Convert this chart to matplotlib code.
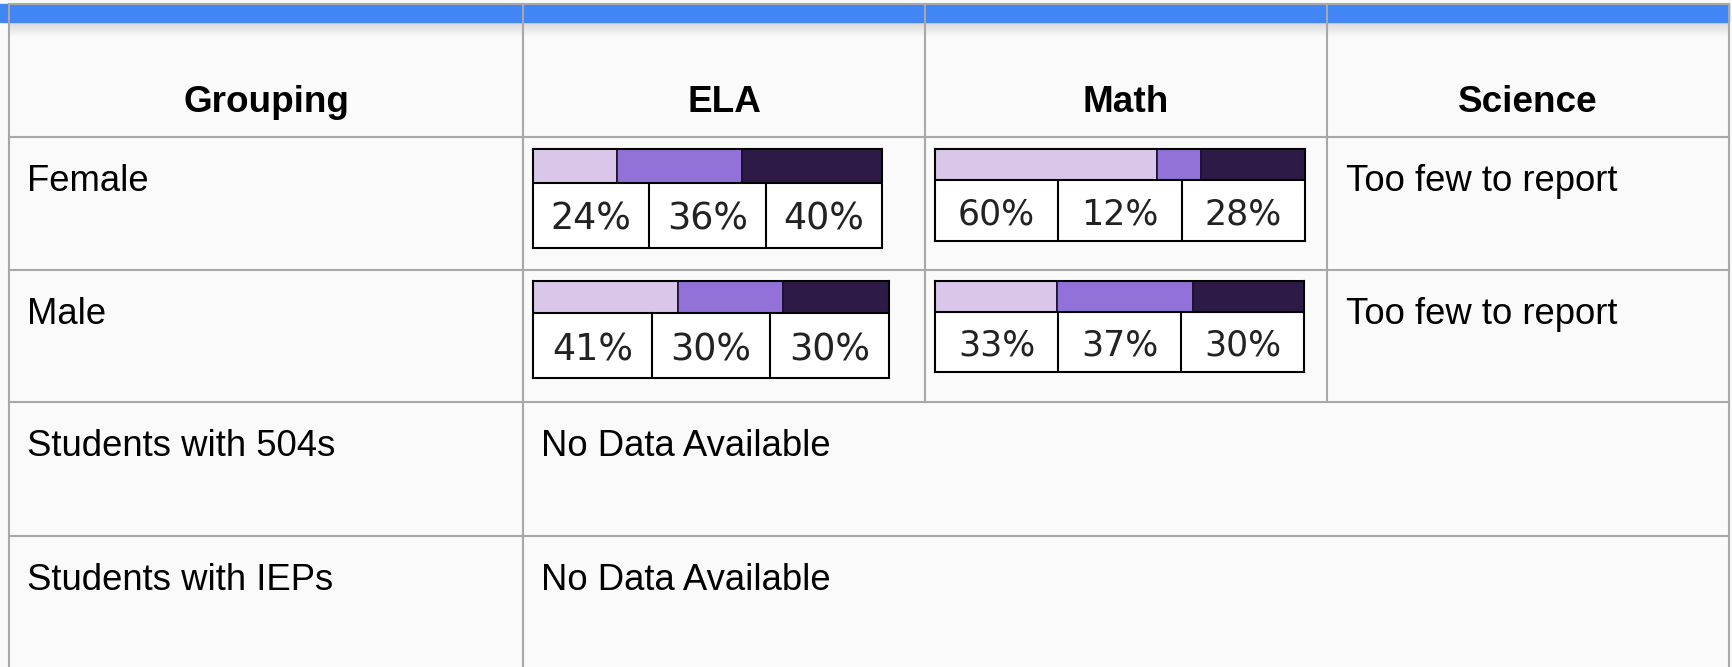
import numpy as np
import matplotlib
matplotlib.use("Agg")
import matplotlib.pyplot as plt
from matplotlib.patches import Rectangle

# table content
header_first = "Grouping"
subjects = ["ELA", "Math", "Science"]
groupings = ["Female", "Male", "Students with 504s", "Students with IEPs"]
ela_female = [24, 36, 40]
ela_male = [41, 30, 30]
math_female = [60, 12, 28]
math_male = [33, 37, 30]
science_note = "Too few to report"
no_data = "No Data Available"
level_colors = ["#d9c6e9", "#9272d8", "#2d1a47"]

W, H = 1733, 667
BG = "#fafafa"
GRID = "#a8a8a8"

# layout in pixels
col_x = [9, 523, 925, 1327, 1729]
row_y = [4, 137, 270, 402, 536]
band_bottom = 22

fig = plt.figure(figsize=(W / 100, H / 100), dpi=100)
fig.patch.set_facecolor(BG)
ax = fig.add_axes([0, 0, 1, 1])
ax.set_xlim(0, W)
ax.set_ylim(H, 0)
ax.axis("off")
ax.set_facecolor(BG)

# blue band on top + soft shadow under it
ax.add_patch(Rectangle((0, row_y[0]), col_x[-1], band_bottom - row_y[0],
                       color="#4285f4", zorder=1))
grad = np.linspace(0.84, 0.98, 30).reshape(-1, 1)
ax.imshow(grad, cmap="gray", vmin=0, vmax=1, aspect="auto",
          extent=[col_x[0], col_x[-1], 37, band_bottom], zorder=0.5)

# grid lines (last two rows: merged cells over the subject columns)
for i, x in enumerate(col_x):
    if i in (2, 3):
        ax.plot([x, x], [row_y[0], row_y[3]], color=GRID, lw=1.5, zorder=2)
    else:
        ax.plot([x, x], [row_y[0], H], color=GRID, lw=1.5, zorder=2)
for y in row_y:
    ax.plot([col_x[0], col_x[-1]], [y, y], color=GRID, lw=1.5, zorder=2)

hdr_font = dict(family=["Liberation Sans", "DejaVu Sans"], fontsize=26.6,
                fontweight="bold", color="black")
body_font = dict(family=["Liberation Sans", "DejaVu Sans"], fontsize=26.3,
                 color="black")

# header row
heads = [header_first] + subjects
for i, h in enumerate(heads):
    ax.text((col_x[i] + col_x[i + 1]) / 2, 112, h, ha="center", va="baseline",
            **hdr_font)

# row labels and plain cells
for r, g in enumerate(groupings):
    base = row_y[r + 1] + 54
    ax.text(col_x[0] + 18, base, g, ha="left", va="baseline", **body_font)
    if r < 2:
        ax.text(col_x[3] + 19, base, science_note, ha="left", va="baseline",
                **body_font)
    else:
        ax.text(col_x[1] + 18, base, no_data, ha="left", va="baseline",
                **body_font)


def mini_chart(box, split_y, vals, fs):
    x0, y0, x1, y1 = box
    axm = fig.add_axes([x0 / W, 1 - y1 / H, (x1 - x0) / W, (y1 - y0) / H])
    frac = (y1 - split_y) / (y1 - y0)
    total = sum(vals)
    axm.set_xlim(0, total)
    axm.set_ylim(0, 1)
    axm.set_facecolor("white")
    left = np.cumsum([0] + vals[:-1])
    axm.barh(frac + (1 - frac) / 2, vals, left=left, height=1 - frac,
             color=level_colors, edgecolor="#1c1030", linewidth=1.2)
    axm.axhline(frac, color="black", lw=1.5)
    for i, v in enumerate(vals):
        if i:
            axm.plot([i / 3, i / 3], [0, frac], transform=axm.transAxes,
                     color="black", lw=1.5)
        axm.text((i + 0.5) / 3, frac / 2, f"{v}%", transform=axm.transAxes,
                 ha="center", va="center_baseline", fontsize=fs,
                 family="DejaVu Sans", color="#222222")
    for s in axm.spines.values():
        s.set_color("black")
        s.set_linewidth(1.5)
    axm.set_xticks([])
    axm.set_yticks([])


mini_chart((533, 149, 882, 248), 183, ela_female, 26.3)
mini_chart((533, 281, 889, 378), 313, ela_male, 26.3)
mini_chart((935, 149, 1305, 241), 180, math_female, 25)
mini_chart((935, 281, 1304, 372), 312, math_male, 25)

fig.savefig("out.png", dpi=100, facecolor=BG)
